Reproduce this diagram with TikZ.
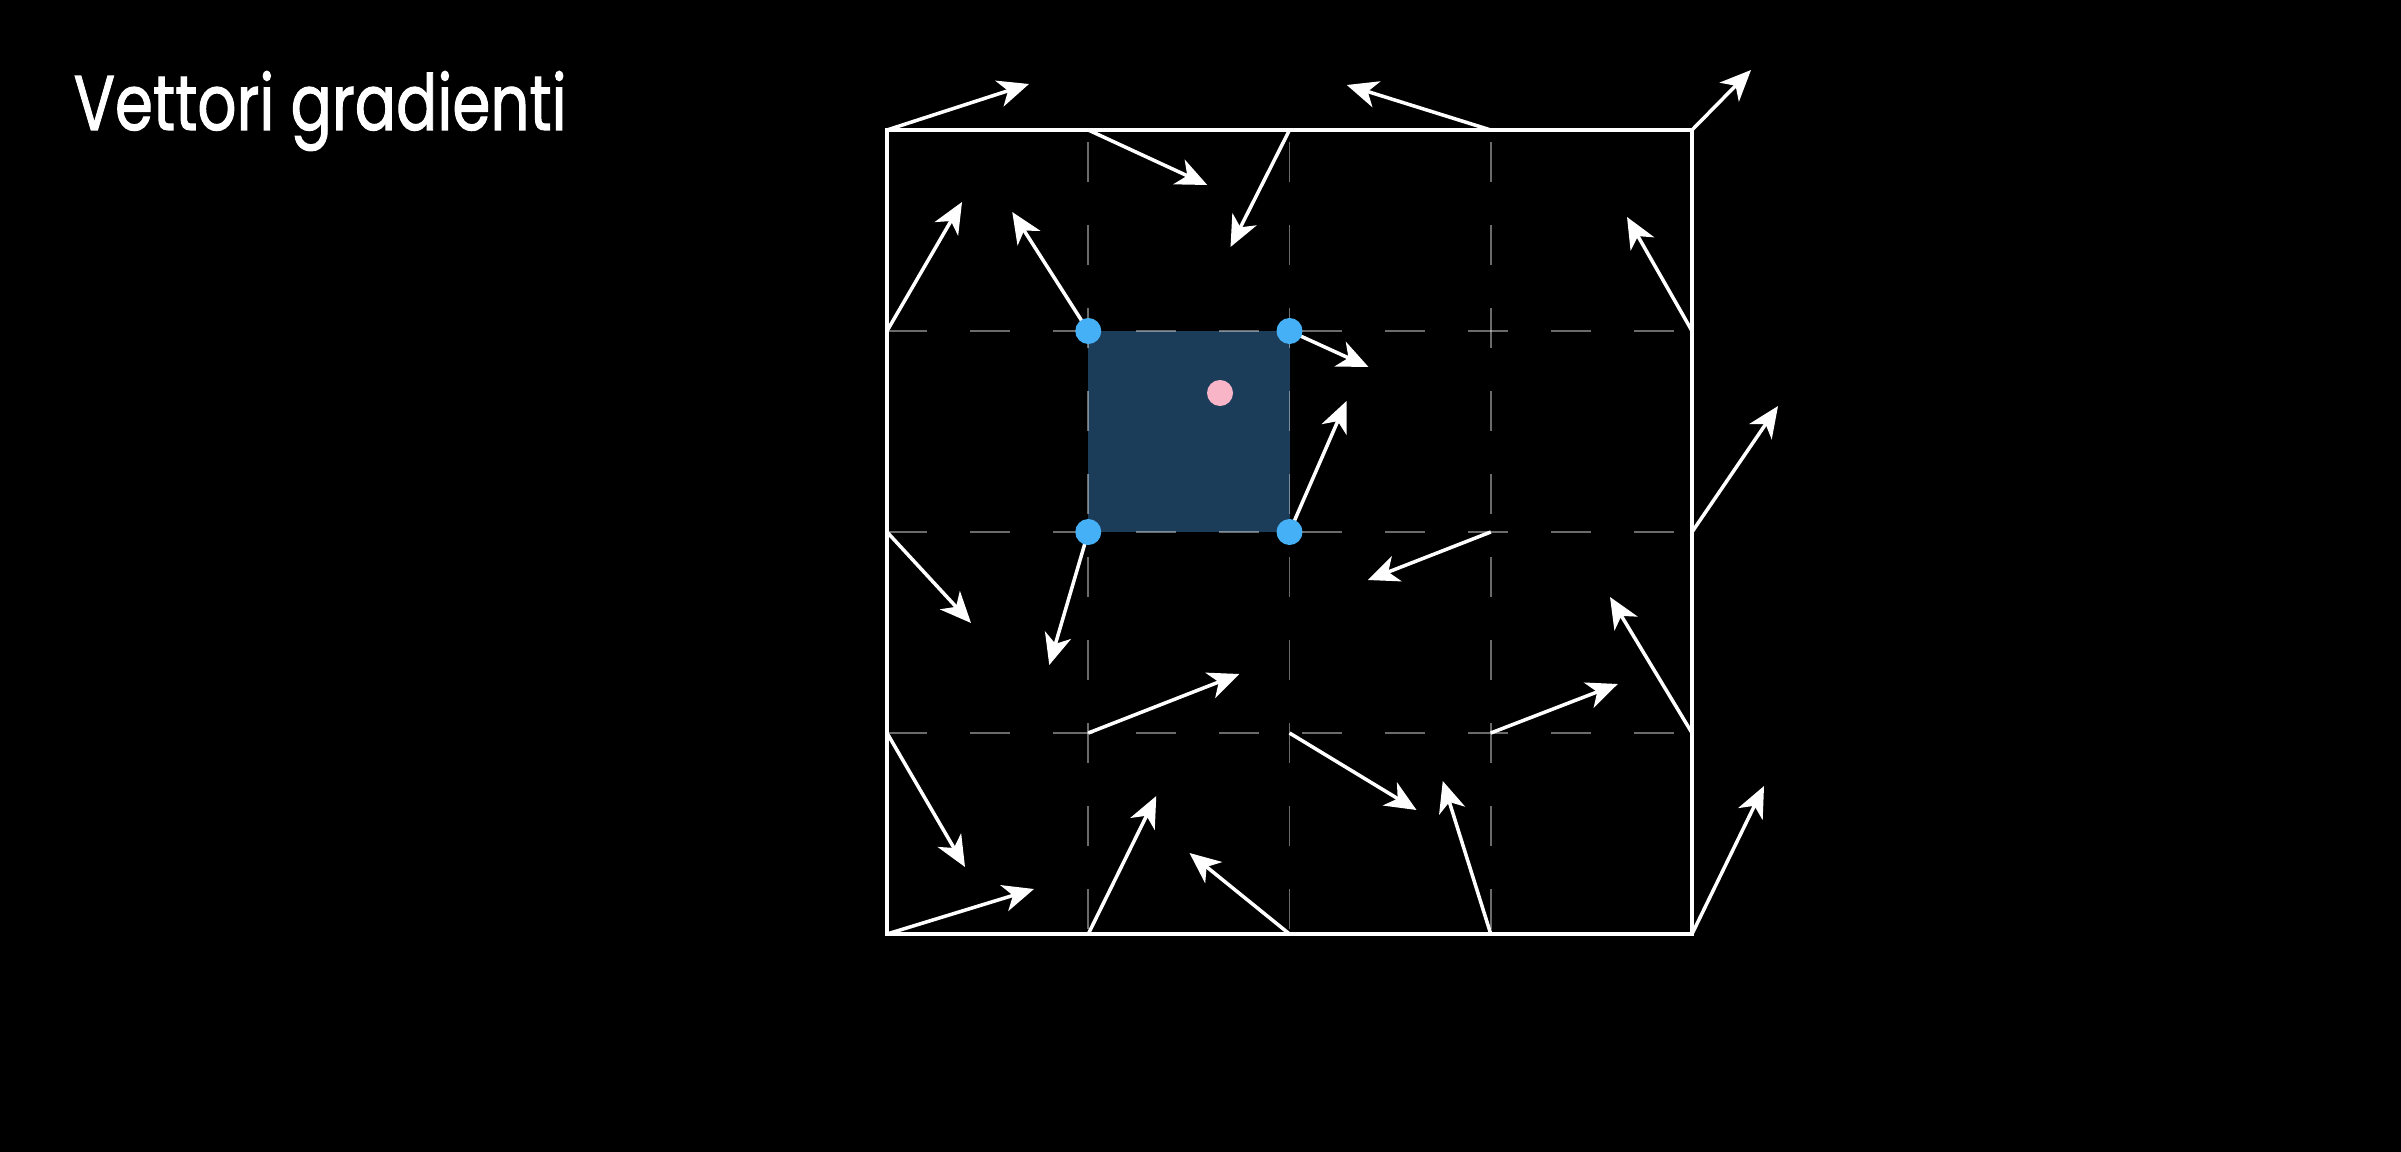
\documentclass[tikz,border=0pt]{standalone}
\usepackage{fontspec}
\usetikzlibrary{arrows.meta, calc}
\newfontfamily\titlefont[FakeBold=1.5]{Poppins}
\definecolor{cellblue}{HTML}{1B3D5A}
\definecolor{dotblue}{HTML}{45B0F5}
\definecolor{dotpink}{HTML}{F9B5C8}

\begin{document}
\begin{tikzpicture}[x=0.01cm, y=-0.01cm,
    frame/.style={white, line width=0.95pt},
    gridline/.style={white, opacity=0.42, line width=0.45pt, dash pattern=on 0.40cm off 0.43cm},
    grad/.style={white, line width=1pt, -{Stealth[length=0.31cm, width=0.27cm, inset=0.09cm]}},
    corner/.style={fill=dotblue},
    sample/.style={fill=dotpink},
    title/.style={white, font=\titlefont\fontsize{22}{26}\selectfont, inner sep=0pt}]
    % Background and page size
    \fill[black] (0,0) rectangle (2401,1152);
    \useasboundingbox (0,0) rectangle (2401,1152);

    % Title
    \node[title, anchor=base west] (title) at (73,130) {\scalebox{0.79}[1]{Vettori gradienti}};

    % Grid vertices
    \foreach \i in {0,...,4} {
      \foreach \j in {0,...,4} {
        \coordinate (v\i\j) at ({887+201.25*\i},{130+201*\j});
      }
    }

    % Highlighted cell
    \fill[cellblue] (v11) rectangle (v22);

    % Dashed inner lines
    \foreach \k in {1,2,3} {
      \draw[gridline] (v0\k) -- (v4\k);
      \draw[gridline, dash phase=0.71cm] (v\k0) -- (v\k4);
    }

    % Outer frame
    \draw[frame] (v00) rectangle (v44);

    % Gradient vectors at the vertices (dx,dy in pixels, no vector at v31)
    \def\grads{0/0/142/-46, 1/0/119/55, 2/0/-59/117, 3/0/-144/-45, 4/0/59/-60,
      0/1/75/-129, 1/1/-76/-119, 2/1/79/36, 4/1/-65/-114,
      0/2/84/91, 1/2/-39/133, 2/2/57/-131, 3/2/-123/48, 4/2/86/-126,
      0/3/78/134, 1/3/151/-59, 2/3/127/77, 3/3/127/-49, 4/3/-82/-136,
      0/4/147/-45, 1/4/68/-138, 2/4/-100/-81, 3/4/-48/-153, 4/4/72/-148}
    \foreach \i/\j/\dx/\dy in \grads {
      \coordinate (t\i\j) at ($(v\i\j)+(\dx,\dy)$);
      \draw[grad] (v\i\j) -- (t\i\j);
    }

    % Corners of the cell and the sample point
    \foreach \c in {v11,v21,v12,v22} {
      \fill[corner] (\c) circle[radius=0.13cm];
    }
    \coordinate (p) at (1220,393);
    \fill[sample] (p) circle[radius=0.13cm];
  \end{tikzpicture}
\end{document}
